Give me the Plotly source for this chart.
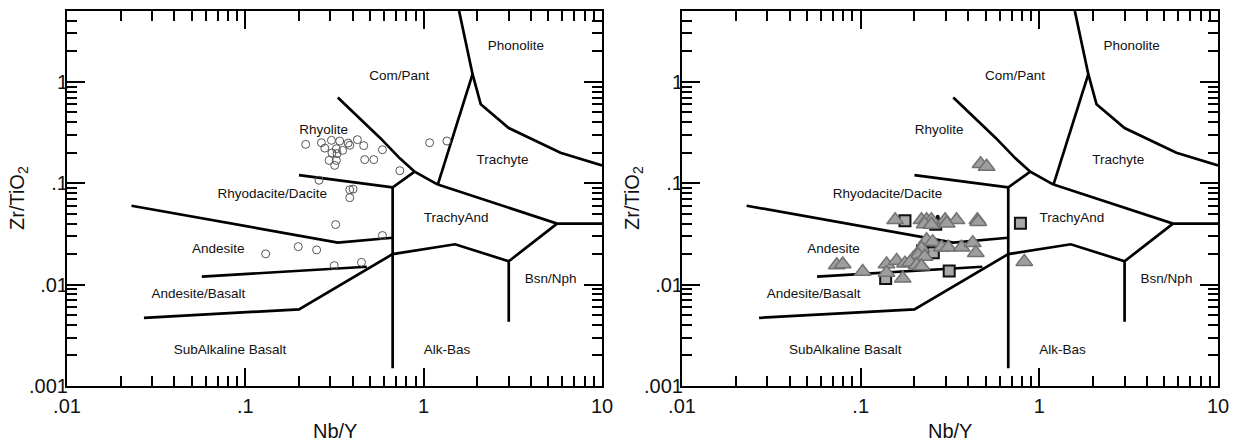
import numpy as np
import plotly.graph_objects as go

# ---------------- data ----------------
# Field boundaries (Nb/Y, Zr/TiO2)
phon_x = [1.58, 1.88, 2.09, 3.0, 5.85, 10]
phon_y = [5.0, 1.19, 0.60, 0.35, 0.20, 0.15]
cpt_x = [1.88, 1.2]
cpt_y = [1.19, 0.097]
rhy_x = [0.33, 0.57, 0.735, 0.89, 1.2]
rhy_y = [0.70, 0.28, 0.176, 0.13, 0.097]
tra_x = [1.2, 5.6, 10]
tra_y = [0.097, 0.04, 0.04]
alk_x = [0.89, 0.67, 0.67]
alk_y = [0.13, 0.091, 0.0015]
rd_x = [0.2, 0.67]
rd_y = [0.12, 0.091]
and_x = [0.023, 0.33, 0.67]
and_y = [0.06, 0.026, 0.029]
ab_x = [0.057, 0.48]
ab_y = [0.012, 0.015]
sab_x = [0.027, 0.2, 0.67, 1.5, 3.0, 5.6]
sab_y = [0.0047, 0.0057, 0.020, 0.025, 0.017, 0.04]
bn_x = [3.0, 3.0]
bn_y = [0.017, 0.0043]

field_names = ["Phonolite", "Com/Pant", "Rhyolite", "Trachyte", "Rhyodacite/Dacite",
               "TrachyAnd", "Andesite", "Bsn/Nph", "Andesite/Basalt",
               "SubAlkaline Basalt", "Alk-Bas"]
field_x = [3.29, 0.73, 0.275, 2.77, 0.1415, 1.52, 0.0705, 5.15, 0.0546, 0.082, 1.35]
field_y = [2.21, 1.12, 0.333, 0.166, 0.0775, 0.0443, 0.0222, 0.0111, 0.00789, 0.00223, 0.00223]

# Left panel samples (open circles)
circ_x = [0.218, 0.267, 0.279, 0.304, 0.338, 0.377, 0.425, 0.461, 0.587, 0.385,
          0.324, 0.351, 0.306, 0.327, 0.295, 0.324, 0.317, 0.467, 0.525, 0.735,
          0.259, 0.385, 0.402, 0.385, 0.321, 0.587, 0.198, 0.251, 0.130, 0.315,
          0.448, 1.08, 1.35]
circ_y = [0.242, 0.251, 0.222, 0.265, 0.261, 0.249, 0.269, 0.235, 0.214, 0.237,
          0.219, 0.211, 0.199, 0.196, 0.168, 0.168, 0.150, 0.171, 0.171, 0.133,
          0.107, 0.0863, 0.0875, 0.0720, 0.0391, 0.0305, 0.0237, 0.022, 0.0201, 0.0154,
          0.0166, 0.251, 0.261]

# Right panel samples
sq_x = [0.177, 0.263, 0.222, 0.255, 0.313, 0.138, 0.784]
sq_y = [0.0427, 0.0395, 0.0214, 0.0206, 0.0136, 0.0115, 0.0402]
tri_x = [0.469, 0.507,
         0.156, 0.219, 0.234, 0.249, 0.297, 0.344, 0.450, 0.228, 0.249, 0.303, 0.455,
         0.234, 0.253, 0.219, 0.284, 0.309, 0.367, 0.424, 0.441,
         0.197, 0.210, 0.228,
         0.0735, 0.0793, 0.1026, 0.1396, 0.159, 0.177, 0.189, 0.206, 0.219, 0.1396, 0.172,
         0.824]
tri_y = [0.155, 0.146,
         0.0434, 0.0434, 0.0434, 0.0434, 0.0434, 0.0434, 0.0434, 0.0395, 0.039, 0.0402, 0.0417,
         0.0275, 0.0264, 0.0228, 0.0233, 0.0233, 0.0233, 0.0258, 0.0206,
         0.0181, 0.0196, 0.0189,
         0.0156, 0.0159, 0.0134, 0.0159, 0.0172, 0.0162, 0.0166, 0.0156, 0.0152, 0.0131, 0.0115,
         0.0168]
dot_x = [0.27]
dot_y = [0.0468]

x_ticks = [0.01, 0.1, 1, 10]
x_labels = [".01", ".1", "1", "10"]
y_ticks = [0.001, 0.01, 0.1, 1]
y_labels = [".001", ".01", ".1", "1"]
x_title = "Nb/Y"
y_title = "Zr/TiO<sub>2</sub>"

# ---------------- figure ----------------
FONT = "Arial, Liberation Sans, sans-serif"
W, H = 1236, 443
MT, MB = 11, 57
PH = H - MT - MB
fig = go.Figure()

boundaries = [(phon_x, phon_y), (cpt_x, cpt_y), (rhy_x, rhy_y), (tra_x, tra_y),
              (alk_x, alk_y), (rd_x, rd_y), (and_x, and_y), (ab_x, ab_y),
              (sab_x, sab_y), (bn_x, bn_y)]

panels = [(("x", "y"), ("x3", "y3")), (("x2", "y2"), ("x4", "y4"))]
for (xa, ya), (xm, ym) in panels:
    for bx, by in boundaries:
        fig.add_trace(go.Scatter(x=bx, y=by, mode="lines", xaxis=xa, yaxis=ya,
                                 line=dict(color="black", width=2.7),
                                 showlegend=False, hoverinfo="skip"))
    # labels placed on the overlay axes (identical ranges) so those axes exist
    fig.add_trace(go.Scatter(x=field_x, y=field_y, text=field_names, mode="text",
                             xaxis=xm, yaxis=ym, showlegend=False, hoverinfo="skip",
                             textfont=dict(family=FONT, size=13.5, color="#111")))

fig.add_trace(go.Scatter(x=circ_x, y=circ_y, mode="markers", xaxis="x", yaxis="y",
                         marker=dict(symbol="circle-open", size=8, color="#555",
                                     line=dict(color="#555", width=1)),
                         showlegend=False))
fig.add_trace(go.Scatter(x=sq_x, y=sq_y, mode="markers", xaxis="x2", yaxis="y2",
                         marker=dict(symbol="square", size=11, color="#a8a8a8",
                                     line=dict(color="#111", width=2)),
                         showlegend=False))
fig.add_trace(go.Scatter(x=tri_x, y=tri_y, mode="markers", xaxis="x2", yaxis="y2",
                         marker=dict(symbol="triangle-up", size=14.5, color="#9e9e9e",
                                     line=dict(color="#727272", width=1.5)),
                         showlegend=False))
fig.add_trace(go.Scatter(x=dot_x, y=dot_y, mode="markers", xaxis="x2", yaxis="y2",
                         marker=dict(symbol="circle", size=4, color="#111"),
                         showlegend=False))

def minor_vals(lo, hi):
    vals = []
    for d in range(lo, hi):
        for m in range(2, 10):
            vals.append(m * 10.0 ** d)
    return vals

X_RANGE = [-2, 1]
Y_RANGE = [-3, float(np.log10(5))]

def base(rng, **kw):
    d = dict(type="log", range=rng, showgrid=False, zeroline=False,
             ticks="inside", tickwidth=2, tickcolor="black", automargin=False)
    d.update(kw)
    return d

def xmajor(domain, anchor):
    return base(X_RANGE, domain=domain, anchor=anchor,
                tickmode="array", tickvals=x_ticks, ticktext=x_labels, ticklen=18,
                showline=True, linecolor="black", linewidth=2, mirror="allticks",
                tickfont=dict(family=FONT, size=20, color="#111"),
                ticklabelstandoff=1)

def ymajor(anchor):
    return base(Y_RANGE, domain=[0, 1], anchor=anchor,
                tickmode="array", tickvals=y_ticks, ticktext=y_labels, ticklen=18,
                showline=True, linecolor="black", linewidth=2, mirror="allticks",
                tickfont=dict(family=FONT, size=20, color="#111"),
                ticklabelstandoff=-7)

def xminor(over, anchor):
    return base(X_RANGE, overlaying=over, anchor=anchor, tickmode="array",
                tickvals=minor_vals(-2, 1), ticklen=10, showticklabels=False,
                showline=False, mirror="allticks")

def yminor(over, anchor):
    return base(Y_RANGE, overlaying=over, anchor=anchor, tickmode="array",
                tickvals=minor_vals(-3, 1), ticklen=10, showticklabels=False,
                showline=False, mirror="allticks")

L1 = [67 / W, 602 / W]
L2 = [682 / W, 1218 / W]

annotations = []
for dom in (L1, L2):
    xc = (dom[0] + dom[1]) / 2
    annotations.append(dict(text=x_title, xref="paper", yref="paper",
                            x=xc, y=-(MB - 12) / PH, xanchor="center",
                            yanchor="middle", showarrow=False,
                            font=dict(family=FONT, size=20, color="#111")))
    annotations.append(dict(text=y_title, xref="paper", yref="paper",
                            x=dom[0] - 48.5 / W, y=0.5, xanchor="center",
                            yanchor="middle", textangle=-90, showarrow=False,
                            font=dict(family=FONT, size=20, color="#111")))

fig.update_layout(
    width=W, height=H,
    margin=dict(l=0, r=0, t=MT, b=MB, autoexpand=False),
    plot_bgcolor="white", paper_bgcolor="white",
    xaxis=xmajor(L1, "y"),
    yaxis=ymajor("x"),
    xaxis2=xmajor(L2, "y2"),
    yaxis2=ymajor("x2"),
    xaxis3=xminor("x", "y3"),
    yaxis3=yminor("y", "x3"),
    xaxis4=xminor("x2", "y4"),
    yaxis4=yminor("y2", "x4"),
    annotations=annotations,
    showlegend=False,
)

fig.write_html("out.html")
